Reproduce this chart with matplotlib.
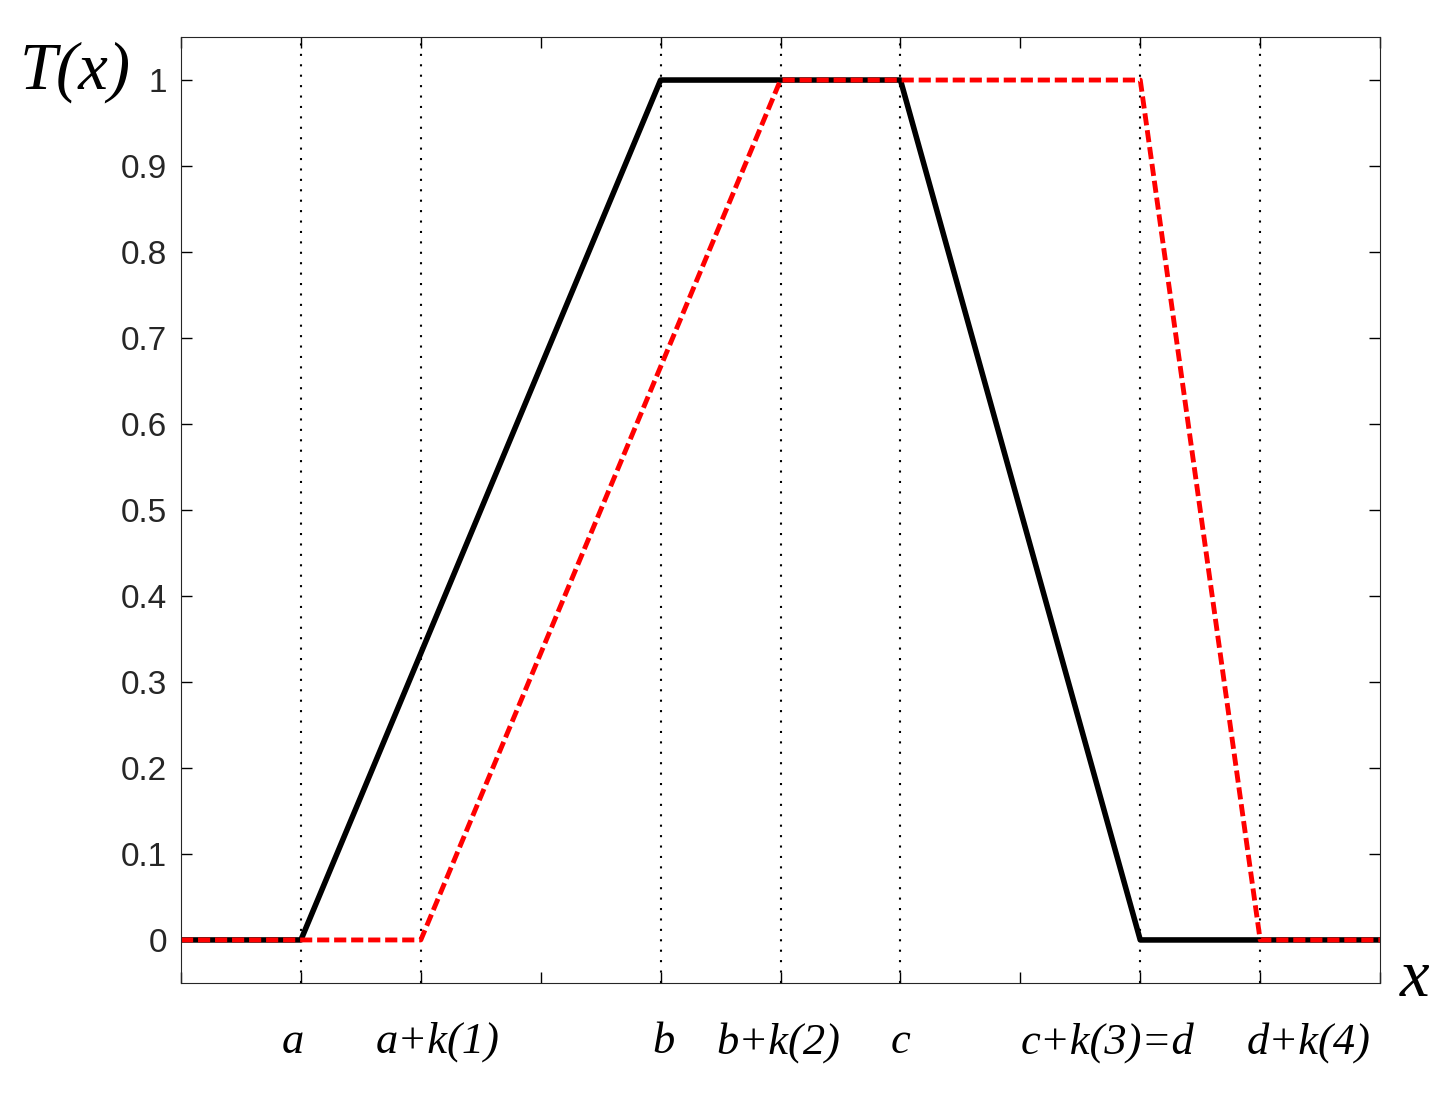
import matplotlib
matplotlib.use("Agg")
import matplotlib.pyplot as plt
import numpy as np

# data
black_x = [0, 1, 4, 6, 8, 10]
black_y = [0, 0, 1, 1, 0, 0]
red_x = [0, 2, 5, 8, 9, 10]
red_y = [0, 0, 1, 1, 0, 0]
mark_x = [1, 2, 4, 5, 6, 8, 9]
mark_labels = ["a", "a+k(1)", "b", "b+k(2)", "c", "c+k(3)=d", "d+k(4)"]
label_shift = [-8, 17, 3, -2, 0, -33, 48]  # pixel nudges so labels don't collide
yticks = np.round(np.arange(0, 1.01, 0.1), 1)
ytick_labels = ["0"] + ["%.1f" % v for v in yticks[1:-1]] + ["1"]

fig = plt.figure(figsize=(14.55, 10.99), dpi=100)
ax = fig.add_axes([0.1244, 0.1056, 0.8241, 0.8607])

for xv in mark_x:
    ax.axvline(xv, color="black", linestyle=(0, (1, 4)), linewidth=1.5)

ax.plot(black_x, black_y, color="black", linewidth=4)
ax.plot(red_x, red_y, color="#ff0000", linewidth=3.5, linestyle=(0, (2.5, 1)))

ax.set_xlim(0, 10)
ax.set_ylim(-0.05, 1.05)
ax.set_xticks(range(0, 11))
ax.set_xticklabels([])
ax.set_yticks(yticks)
ax.set_yticklabels(ytick_labels, fontsize=24, family="Liberation Sans", color="#262626")
ax.tick_params(direction="in", length=8, top=True, right=True, width=1, pad=10)
for s in ax.spines.values():
    s.set_color("#262626")

for xv, lab, sh in zip(mark_x, mark_labels, label_shift):
    ax.annotate(lab, xy=(xv, -0.05), xycoords="data", xytext=(sh * 0.72, -28),
                textcoords="offset points", ha="center", va="top", fontsize=32,
                family="Liberation Serif", style="italic")

fig.text(75 / 1455, 1 - 72 / 1099, "T(x)", ha="center", va="center", fontsize=48,
         family="Liberation Serif", style="italic")
fig.text(1415 / 1455, 1 - 980 / 1099, "x", ha="center", va="center", fontsize=48,
         family="Liberation Serif", style="italic")

fig.savefig("out.png", dpi=100)
